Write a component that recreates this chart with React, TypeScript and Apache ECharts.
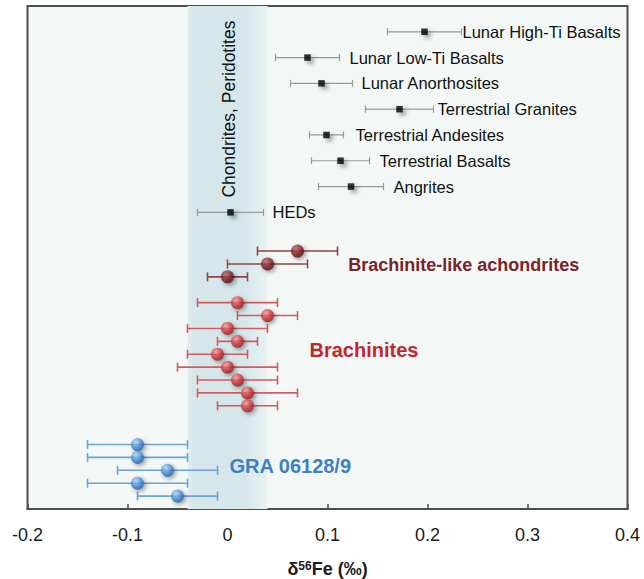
import React, { useEffect, useRef } from "react";
import * as echarts from "echarts";

// ---- data ----
const xTickLabels = ["-0.2", "-0.1", "0", "0.1", "0.2", "0.3", "0.4"];

const refLabels = [
  "Lunar High-Ti Basalts",
  "Lunar Low-Ti Basalts",
  "Lunar Anorthosites",
  "Terrestrial Granites",
  "Terrestrial Andesites",
  "Terrestrial Basalts",
  "Angrites",
  "HEDs",
];
const refX = [0.197, 0.08, 0.094, 0.172, 0.099, 0.113, 0.1235, 0.003];
const refErr = [0.037, 0.032, 0.031, 0.034, 0.017, 0.029, 0.0325, 0.033];
const refRow = [2, 4, 6, 8, 10, 12, 14, 16];
const refLabelGap = [1, 10, 9, 4, 12, 10, 10, 9];

const brachLikeX = [0.07, 0.04, 0.0];
const brachLikeErr = [0.04, 0.04, 0.02];
const brachLikeRow = [19, 20, 21];

const brachX = [0.01, 0.04, 0.0, 0.01, -0.01, 0.0, 0.01, 0.02, 0.02];
const brachErr = [0.04, 0.03, 0.04, 0.02, 0.03, 0.05, 0.04, 0.05, 0.03];
const brachRow = [23, 24, 25, 26, 27, 28, 29, 30, 31];

const graX = [-0.09, -0.09, -0.06, -0.09, -0.05];
const graErr = [0.05, 0.05, 0.05, 0.05, 0.04];
const graRow = [34, 35, 36, 37, 38];

const groupNames = ["Brachinite-like achondrites", "Brachinites", "GRA 06128/9"];
const groupAnchorX = [0.1207, 0.082, 0.002];
const groupAnchorRow = [20.08, 26.7, 35.67];

const bandRange = [-0.04, 0.04];
const bandLabel = "Chondrites, Peridotites";
const bandLabelAt = [0.001, 7.99];

function errData(xs: number[], es: number[], rows: number[]) {
  return xs.map((x, i) => [x - es[i], x + es[i], rows[i]]);
}
function ptData(xs: number[], rows: number[]) {
  return xs.map((x, i) => [x, rows[i]]);
}

function errSeries(
  xs: number[],
  es: number[],
  rows: number[],
  color: string,
  width: number,
  cap: number,
  labels?: string[],
  gaps?: number[]
): any {
  return {
    type: "custom",
    data: errData(xs, es, rows),
    encode: { x: [0, 1], y: 2 },
    z: 2,
    renderItem: (params: any, api: any) => {
      const y = api.value(2);
      const p1 = api.coord([api.value(0), y]);
      const p2 = api.coord([api.value(1), y]);
      const st = { stroke: color, lineWidth: width };
      const children: any[] = [
        { type: "line", shape: { x1: p1[0], y1: p1[1], x2: p2[0], y2: p2[1] }, style: st },
        { type: "line", shape: { x1: p1[0], y1: p1[1] - cap, x2: p1[0], y2: p1[1] + cap }, style: st },
        { type: "line", shape: { x1: p2[0], y1: p2[1] - cap, x2: p2[0], y2: p2[1] + cap }, style: st },
      ];
      if (labels) {
        children.push({
          type: "text",
          x: p2[0] + (gaps ? gaps[params.dataIndex] : 6),
          y: p2[1],
          style: {
            text: labels[params.dataIndex],
            fill: "#111",
            font: '16.5px "Liberation Sans", Arial, sans-serif',
            textAlign: "left",
            textVerticalAlign: "middle",
          },
        });
      }
      return { type: "group", children };
    },
  };
}

function ball(c0: string, c1: string, c2: string): any {
  return {
    type: "radial",
    x: 0.38,
    y: 0.32,
    r: 0.72,
    colorStops: [
      { offset: 0, color: c0 },
      { offset: 0.55, color: c1 },
      { offset: 1, color: c2 },
    ],
  };
}

function ballSeries(xs: number[], rows: number[], color: any): any {
  return {
    type: "scatter",
    data: ptData(xs, rows),
    symbol: "circle",
    symbolSize: 13,
    z: 4,
    itemStyle: {
      color,
      shadowBlur: 4,
      shadowOffsetX: 2,
      shadowOffsetY: 2,
      shadowColor: "rgba(0,0,0,0.45)",
    },
  };
}

export default function App() {
  const ref = useRef<HTMLDivElement>(null);
  useEffect(() => {
    document.body.style.margin = "0";
    const chart = echarts.init(ref.current!, undefined, { renderer: "svg" });
    const groupColors = ["#7a2328", "#c4262d", "#3f7fc4"];
    const groupSizes = [18, 20, 20];
    const option: any = {
      animation: false,
      backgroundColor: "#ffffff",
      grid: {
        left: 27.5,
        right: 16.5,
        top: 6,
        bottom: 70,
        show: true,
        backgroundColor: "#f3f8f7",
        borderColor: "#4d4d4d",
        borderWidth: 2,
      },
      xAxis: {
        type: "value",
        position: "bottom",
        min: -0.2,
        max: 0.4,
        interval: 0.1,
        axisLine: { show: true, onZero: false, lineStyle: { color: "#4d4d4d", width: 2 } },
        axisTick: { show: true, inside: true, length: 5, lineStyle: { color: "#4d4d4d", width: 1.5 } },
        splitLine: { show: false },
        axisLabel: {
          margin: 17,
          fontSize: 18,
          color: "#1a1a1a",
          fontFamily: '"Liberation Sans", Arial, sans-serif',
          formatter: (v: number) => xTickLabels[Math.round((v + 0.2) / 0.1)] ?? "",
        },
      },
      yAxis: { type: "value", min: 0, max: 39, inverse: true, show: false },
      graphic: [
        {
          type: "text",
          x: 327.5,
          y: 568.5,
          style: {
            text: "{d|δ}{s|56}{f|Fe (‰)}",
            textAlign: "center",
            textVerticalAlign: "middle",
            rich: {
              d: { fontSize: 18, fontWeight: "bold", fontFamily: '"Liberation Sans", Arial, sans-serif', fill: "#1a1a1a" },
              s: { fontSize: 12, fontWeight: "bold", fontFamily: '"Liberation Sans", Arial, sans-serif', fill: "#1a1a1a", padding: [0, 0, 5, 0] },
              f: { fontSize: 18, fontWeight: "bold", fontFamily: '"Liberation Sans", Arial, sans-serif', fill: "#1a1a1a" },
            },
          },
        },
      ],
      series: [
        {
          ...errSeries(refX, refErr, refRow, "#999999", 1.2, 3.5, refLabels, refLabelGap),
          markArea: {
            silent: true,
            z: 1,
            itemStyle: {
              color: {
                type: "linear",
                x: 0,
                y: 0,
                x2: 1,
                y2: 0,
                colorStops: [
                  { offset: 0, color: "#e4eff1" },
                  { offset: 0.07, color: "#d5e7eb" },
                  { offset: 0.72, color: "#d5e7eb" },
                  { offset: 1, color: "#e9f2f3" },
                ],
              },
            },
            data: [[{ xAxis: bandRange[0] }, { xAxis: bandRange[1] }]],
          },
        },
        {
          type: "scatter",
          data: ptData(refX, refRow),
          symbol: "rect",
          symbolSize: 6.5,
          z: 4,
          itemStyle: {
            color: "#000",
            shadowBlur: 4,
            shadowOffsetX: 3,
            shadowOffsetY: 3,
            shadowColor: "rgba(0,0,0,0.45)",
          },
        },
        errSeries(brachLikeX, brachLikeErr, brachLikeRow, "#8e4646", 1.6, 4.5),
        errSeries(brachX, brachErr, brachRow, "#d45a5e", 1.6, 4.5),
        errSeries(graX, graErr, graRow, "#6aa3d8", 1.6, 4.5),
        ballSeries(brachLikeX, brachLikeRow, ball("#c46a6a", "#7d2226", "#4a0c10")),
        ballSeries(brachX, brachRow, ball("#f4a0a0", "#cf3a40", "#8e1c22")),
        ballSeries(graX, graRow, ball("#b4dbf7", "#4b90d6", "#255b9c")),
        {
          type: "custom",
          data: groupAnchorX.map((x, i) => [x, groupAnchorRow[i]]),
          z: 5,
          renderItem: (params: any, api: any) => {
            const p = api.coord([api.value(0), api.value(1)]);
            const i = params.dataIndex;
            return {
              type: "text",
              x: p[0],
              y: p[1],
              style: {
                text: groupNames[i],
                fill: groupColors[i],
                font: `bold ${groupSizes[i]}px "Liberation Sans", Arial, sans-serif`,
                textAlign: "left",
                textVerticalAlign: "middle",
              },
            };
          },
        },
        {
          type: "custom",
          data: [bandLabelAt],
          z: 5,
          renderItem: (params: any, api: any) => {
            const p = api.coord([api.value(0), api.value(1)]);
            return {
              type: "text",
              x: p[0],
              y: p[1],
              rotation: Math.PI / 2,
              style: {
                text: bandLabel,
                fill: "#111",
                font: '17.5px "Liberation Sans", Arial, sans-serif',
                textAlign: "center",
                textVerticalAlign: "middle",
              },
            };
          },
        },
      ],
    };
    chart.setOption(option);
    return () => chart.dispose();
  }, []);
  return (
    <div
      ref={ref}
      style={{ position: "absolute", left: 0, top: 0, width: 644, height: 579 }}
    />
  );
}
